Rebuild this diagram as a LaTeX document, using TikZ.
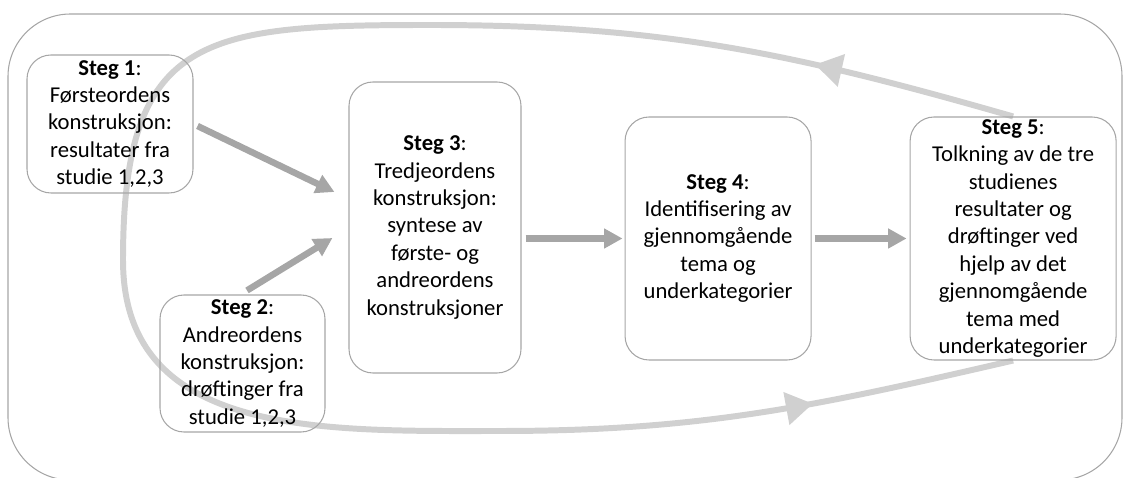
\documentclass[tikz,border=0pt]{standalone}
\usepackage{fontspec}
\setmainfont{Carlito}
\usetikzlibrary{positioning, arrows.meta, decorations.markings, backgrounds}
\definecolor{framegray}{RGB}{166,166,166}
\definecolor{arrowgray}{RGB}{166,166,166}
\definecolor{loopgray}{RGB}{208,208,208}
\tikzstyle{steparrow} = [line width=3.7pt, draw=arrowgray, -{Triangle[length=0.37cm,width=0.38cm]}]
\tikzstyle{stepbox} = [rectangle, rounded corners=0.48cm, draw=framegray, line width=0.6pt, align=center, inner sep=0pt, font=\fontsize{12.9}{15.6}\selectfont]
\tikzstyle{looparrow} = [line width=3.4pt, draw=loopgray, postaction={decorate}, decoration={markings,
  mark=at position 0.1 with {\arrow[loopgray]{Triangle[length=0.54cm,width=0.64cm]}},
  mark=at position 0.9 with {\arrow[loopgray]{Triangle[length=0.54cm,width=0.64cm]}}}]

\begin{document}
\begin{tikzpicture}[node distance=2cm]
		\useasboundingbox (0,0) rectangle (22.46,9.56);
		\draw [draw=framegray, line width=0.6pt, rounded corners=1.25cm] (0.16,-0.04) rectangle (22.44,9.28);
		\node (s1) [stepbox, minimum width=3.32cm, minimum height=2.76cm] at (2.20,7.08) {\textbf{Steg 1}:\\Førsteordens\\konstruksjon:\\resultater fra\\studie 1,2,3};
		\node (s2) [stepbox, minimum width=3.30cm, minimum height=2.74cm] at (4.85,2.29) {\textbf{Steg 2}:\\Andreordens\\konstruksjon:\\drøftinger fra\\studie 1,2,3};
		\node (s3) [stepbox, minimum width=3.44cm, minimum height=5.82cm] at (8.70,5.01) {\textbf{Steg 3}:\\Tredjeordens\\konstruksjon:\\syntese av\\første- og\\andreordens\\konstruksjoner};
		\node (s4) [stepbox, minimum width=3.72cm, minimum height=4.86cm, right=2.06cm of s3, yshift=-0.22cm] {\textbf{Steg 4}:\\Identifisering av\\gjennomgående\\tema og\\underkategorier};
		\node (s5) [stepbox, minimum width=4.12cm, minimum height=4.86cm, right=1.96cm of s4] {\textbf{Steg 5}:\\Tolkning av de tre\\studienes\\resultater og\\drøftinger ved\\hjelp av det\\gjennomgående\\tema med\\underkategorier};
		\draw [steparrow] ([xshift=0.08cm,yshift=-0.04cm]s1.east) -- ([xshift=-0.28cm,yshift=0.71cm]s3.west);
		\draw [steparrow] ([xshift=0.09cm,yshift=0.08cm]s2.north) -- ([xshift=-0.32cm,yshift=-0.21cm]s3.west);
		\draw [steparrow] ([xshift=0.08cm,yshift=-0.22cm]s3.east) -- ([xshift=-0.04cm]s4.west);
		\draw [steparrow] ([xshift=0.06cm]s4.east) -- ([xshift=-0.06cm]s5.west);
		\begin{scope}[on background layer]
		\coordinate (looptop) at (8.60,9.06);
		\coordinate (loopleft) at (2.46,4.36);
		\coordinate (loopbottom) at (10.00,0.94);
		\draw [looparrow] (s5.north) to[out=164,in=0] (looptop) to[out=180,in=90,looseness=1.5] (loopleft) to[out=-90,in=180,looseness=1.1] (loopbottom) to[out=0,in=193] (s5.south);
		\end{scope}
\end{tikzpicture}
\end{document}
